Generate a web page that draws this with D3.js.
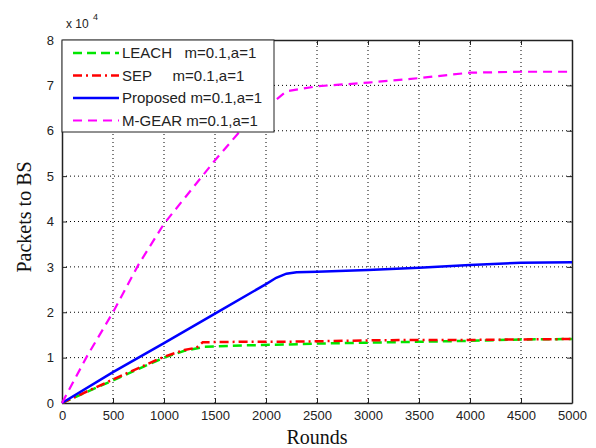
<!DOCTYPE html>
<html>
<head>
<meta charset="utf-8">
<script src="https://cdn.jsdelivr.net/npm/d3@7"></script>
<style>
  body { margin: 0; background: #fff; }
</style>
</head>
<body>
<div id="chart"></div>
<script>
// rounds and packets (x 10^4)
var leachX = [0, 250, 500, 750, 1000, 1200, 1400, 1800, 2200, 2500, 3000, 3500, 4000, 4500, 5000];
var leachY = [0, 0.25, 0.5, 0.75, 1.0, 1.15, 1.24, 1.27, 1.29, 1.31, 1.33, 1.35, 1.37, 1.4, 1.41];
var sepX = [0, 250, 500, 750, 1000, 1200, 1320, 1380, 1800, 2200, 2500, 3000, 3500, 4000, 4500, 5000];
var sepY = [0, 0.26, 0.52, 0.77, 1.02, 1.17, 1.22, 1.34, 1.35, 1.35, 1.36, 1.38, 1.39, 1.39, 1.4, 1.41];
var propX = [0, 500, 1000, 1500, 2000, 2100, 2200, 2300, 2500, 3000, 3500, 4000, 4500, 5000];
var propY = [0, 0.68, 1.32, 1.97, 2.62, 2.76, 2.85, 2.88, 2.89, 2.93, 2.98, 3.04, 3.09, 3.1];
var mgearX = [0, 250, 500, 750, 1000, 1250, 1500, 1750, 2000, 2200, 2500, 3000, 3500, 4000, 4500, 5000];
var mgearY = [0, 1.05, 2.0, 3.05, 3.95, 4.65, 5.35, 6.0, 6.5, 6.87, 6.98, 7.06, 7.16, 7.28, 7.3, 7.3];

var xTicks = [0, 500, 1000, 1500, 2000, 2500, 3000, 3500, 4000, 4500, 5000];
var yTicks = [0, 1, 2, 3, 4, 5, 6, 7, 8];
var legendLabels = ["LEACH   m=0.1,a=1", "SEP     m=0.1,a=1", "Proposed m=0.1,a=1", "M-GEAR m=0.1,a=1"];

var WIDTH = 596, HEIGHT = 448;
var M = {left: 62, right: 24, top: 40, bottom: 45};
var SANS = "'Liberation Sans', Arial, sans-serif";
var SERIF = "'Liberation Serif', 'Times New Roman', serif";

var SVG = d3.select("#chart").append("svg")
    .attr("width", WIDTH)
    .attr("height", HEIGHT);

var x = d3.scaleLinear().domain([0, 5000]).range([M.left, WIDTH - M.right]);
var y = d3.scaleLinear().domain([0, 8]).range([HEIGHT - M.bottom, M.top]);

/**
 * Dotted grid.
 */
var grid = SVG.append("g");
xTicks.slice(1, -1).forEach(function (t) {
    grid.append("line").attr("x1", x(t)).attr("x2", x(t)).attr("y1", y(0)).attr("y2", y(8))
        .attr("stroke", "#000").attr("stroke-width", 1).attr("stroke-dasharray", "1,3");
});
yTicks.slice(1, -1).forEach(function (t) {
    grid.append("line").attr("x1", x(0)).attr("x2", x(5000)).attr("y1", y(t)).attr("y2", y(t))
        .attr("stroke", "#000").attr("stroke-width", 1).attr("stroke-dasharray", "1,3");
});

/**
 * Axes (matlab style, ticks inward on all sides).
 */
var ax = SVG.append("g").attr("transform", "translate(0," + y(0) + ")")
    .call(d3.axisBottom(x).tickValues(xTicks).tickFormat(d3.format("d"))
        .tickSizeInner(-5).tickSizeOuter(0).tickPadding(8));
var axT = SVG.append("g").attr("transform", "translate(0," + y(8) + ")")
    .call(d3.axisTop(x).tickValues(xTicks).tickSizeInner(-5).tickSizeOuter(0).tickFormat(""));
var ay = SVG.append("g").attr("transform", "translate(" + x(0) + ",0)")
    .call(d3.axisLeft(y).tickValues(yTicks).tickFormat(d3.format("d"))
        .tickSizeInner(-5).tickSizeOuter(0).tickPadding(8));
var ayR = SVG.append("g").attr("transform", "translate(" + x(5000) + ",0)")
    .call(d3.axisRight(y).tickValues(yTicks).tickSizeInner(-5).tickSizeOuter(0).tickFormat(""));
[ax, axT, ay, ayR].forEach(function (g) {
    g.selectAll("path").attr("stroke", "#222").attr("stroke-width", 1.5);
    g.selectAll("line").attr("stroke", "#222");
    g.selectAll("text").attr("font-size", 13).attr("fill", "#222").style("font-family", SANS);
});

SVG.append("text").attr("x", x(0) + 4).attr("y", y(8) - 12).style("font-family", SANS)
    .attr("font-size", 12).attr("fill", "#222").text("x 10");
SVG.append("text").attr("x", x(0) + 31).attr("y", y(8) - 20).style("font-family", SANS)
    .attr("font-size", 9).attr("fill", "#222").text("4");

/**
 * Series.
 */
var line = d3.line().x(function (d) { return x(d[0]); }).y(function (d) { return y(d[1]); });
var series = [
    {xs: leachX, ys: leachY, color: "#00e600", dash: "9,5", w: 2.5},
    {xs: sepX, ys: sepY, color: "#ff0000", dash: "9,4,2,4", w: 2.5},
    {xs: propX, ys: propY, color: "#0000ff", dash: null, w: 2.5},
    {xs: mgearX, ys: mgearY, color: "#ff00ff", dash: "9,6", w: 2.2}
];
var LAYER_LINES = SVG.append("g");
series.forEach(function (s) {
    var pts = s.xs.map(function (v, i) { return [v, s.ys[i]]; });
    LAYER_LINES.append("path").datum(pts).attr("d", line)
        .attr("fill", "none").attr("stroke", s.color).attr("stroke-width", s.w)
        .attr("stroke-dasharray", s.dash);
});

/**
 * Legend.
 */
var lg = SVG.append("g").attr("transform", "translate(" + x(0) + "," + y(8) + ")");
lg.append("rect").attr("width", 212).attr("height", 92)
    .attr("fill", "#fff").attr("stroke", "#222").attr("stroke-width", 1);
series.forEach(function (s, i) {
    var yy = 13 + i * 22.5;
    lg.append("line").attr("x1", 11).attr("x2", 57).attr("y1", yy).attr("y2", yy)
        .attr("stroke", s.color).attr("stroke-width", s.w).attr("stroke-dasharray", s.dash);
    lg.append("text").attr("x", 60).attr("y", yy + 5).attr("font-size", 15)
        .style("font-family", SANS).attr("fill", "#222").style("white-space", "pre")
        .text(legendLabels[i]);
});

/**
 * Axis titles.
 */
SVG.append("text").attr("x", x(2500)).attr("y", 444).attr("text-anchor", "middle")
    .style("font-family", SERIF).attr("font-size", 20)
    .attr("fill", "#111").text("Rounds");
SVG.append("text").attr("transform", "translate(31," + y(4.1) + ") rotate(-90)")
    .attr("text-anchor", "middle")
    .style("font-family", SERIF).attr("font-size", 20)
    .attr("fill", "#111").text("Packets to BS");
</script>
</body>
</html>
